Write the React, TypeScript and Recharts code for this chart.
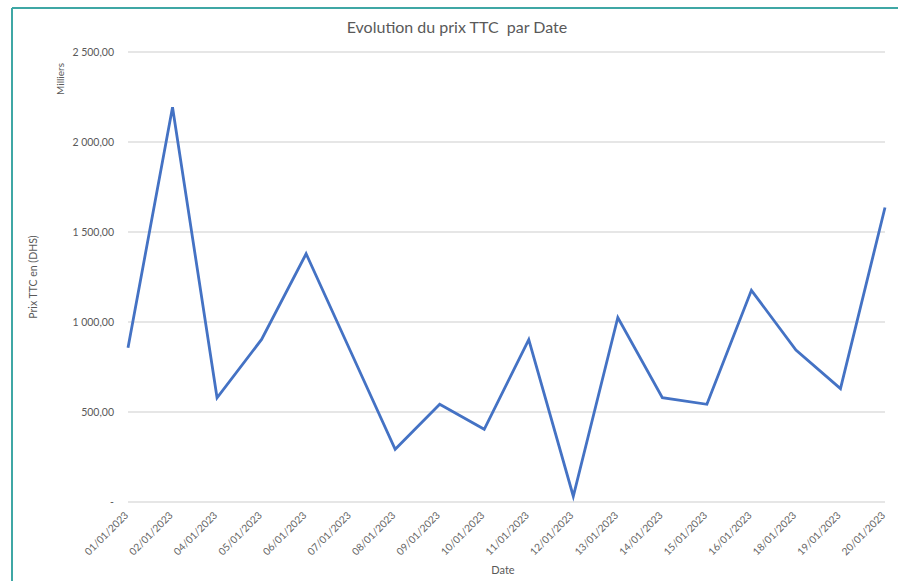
import { LineChart, Line, XAxis, YAxis, CartesianGrid } from "recharts";

const dates = [
  "01/01/2023", "02/01/2023", "04/01/2023", "05/01/2023", "06/01/2023", "07/01/2023",
  "08/01/2023", "09/01/2023", "10/01/2023", "11/01/2023", "12/01/2023", "13/01/2023",
  "14/01/2023", "15/01/2023", "16/01/2023", "18/01/2023", "19/01/2023", "20/01/2023",
];
// prix TTC en milliers de DHS
const prixTTC = [857, 2193, 579, 903, 1379, 836, 293, 543, 404, 902, 32, 1025, 580, 543, 1176, 844, 630, 1636];
const yTicks = [0, 500, 1000, 1500, 2000, 2500];

const data = dates.map((d, i) => ({ date: d, prix: prixTTC[i] }));

const FONT = "Lato, 'Open Sans', sans-serif";
const GREY = "#595959";

const fmt = (v: number) => {
  if (v === 0) return "-";
  const th = Math.floor(v / 1000);
  const rest = v % 1000;
  const s = th ? `${th} ${String(rest).padStart(3, "0")}` : `${rest}`;
  return `${s},00`;
};

const DateTick = ({ x, y, payload }: any) => (
  <text
    x={x + 1}
    y={y + 14}
    transform={`rotate(-45, ${x + 1}, ${y + 14})`}
    textAnchor="end"
    fontSize={10.2}
    fontFamily={FONT}
    fill="#666"
  >
    {payload.value}
  </text>
);

export default function App() {
  return (
    <div style={{ position: "relative", width: 898, height: 581, background: "#fff", fontFamily: FONT }}>
      <style>{"body{margin:0}"}</style>
      <LineChart width={898} height={581} data={data} margin={{ top: 52, right: 13, bottom: 19, left: 68 }}>
        <CartesianGrid stroke="#dedede" strokeWidth={1.3} vertical={false} />
        <XAxis
          dataKey="date"
          interval={0}
          height={60}
          axisLine={false}
          tickLine={false}
          tickSize={0}
          tickMargin={0}
          tick={<DateTick />}
        />
        <YAxis
          width={60}
          domain={[0, 2500]}
          ticks={yTicks}
          tickFormatter={fmt}
          axisLine={false}
          tickLine={false}
          tickSize={0}
          tickMargin={14}
          tick={{ fill: GREY, fontSize: 10.5, fontFamily: FONT }}
        />
        <Line
          type="linear"
          dataKey="prix"
          stroke="#4472C4"
          strokeWidth={2.8}
          dot={false}
          isAnimationActive={false}
        />
      </LineChart>
      <svg
        width={898}
        height={581}
        style={{ position: "absolute", left: 0, top: 0, pointerEvents: "none" }}
      >
        <line x1={12} y1={8} x2={898} y2={8} stroke="#3fa7a5" strokeWidth={2} />
        <line x1={12} y1={8} x2={12} y2={581} stroke="#3fa7a5" strokeWidth={2} />
        <text
          x={457}
          y={33}
          textAnchor="middle"
          fontSize={16}
          fontFamily={FONT}
          fill={GREY}
          style={{ whiteSpace: "pre" }}
        >
          {"Evolution du prix TTC  par Date"}
        </text>
        <text
          x={64}
          y={79}
          textAnchor="middle"
          fontSize={10}
          fontFamily={FONT}
          fill={GREY}
          transform="rotate(-90, 64, 79)"
        >
          Milliers
        </text>
        <text
          x={37}
          y={277}
          textAnchor="middle"
          fontSize={10.5}
          fontFamily={FONT}
          fill={GREY}
          transform="rotate(-90, 37, 277)"
        >
          Prix TTC en (DHS)
        </text>
        <text x={503} y={574} textAnchor="middle" fontSize={11} fontFamily={FONT} fill={GREY}>
          Date
        </text>
      </svg>
    </div>
  );
}
